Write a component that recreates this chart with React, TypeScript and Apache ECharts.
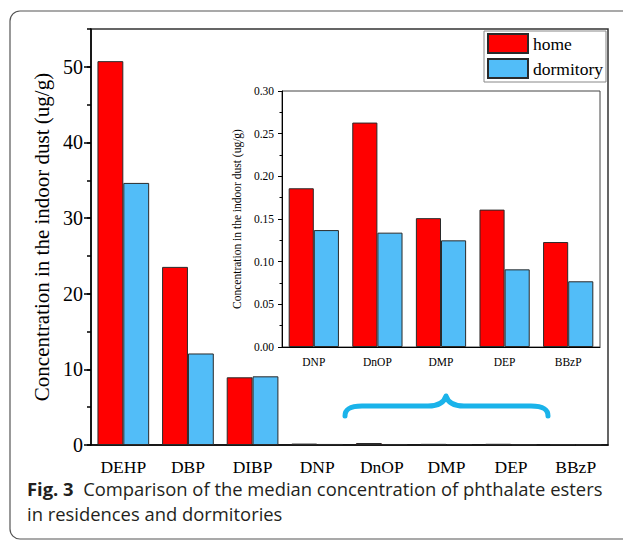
import React, { useEffect, useRef } from 'react';
import * as echarts from 'echarts';

const categories = ['DEHP', 'DBP', 'DIBP', 'DNP', 'DnOP', 'DMP', 'DEP', 'BBzP'];
const homeValues = [50.75, 23.55, 8.95, 0.186, 0.263, 0.151, 0.161, 0.123];
const dormitoryValues = [34.65, 12.1, 9.08, 0.137, 0.134, 0.125, 0.091, 0.077];
const insetCategories = categories.slice(3);
const insetHome = homeValues.slice(3);
const insetDormitory = dormitoryValues.slice(3);
const mainTickValues = [0, 10, 20, 30, 40, 50];
const seriesNames = ['home', 'dormitory'];
const yAxisTitle = 'Concentration in the indoor dust (ug/g)';
const captionBold = 'Fig. 3';
const captionLine1 = 'Comparison of the median concentration of phthalate esters';
const captionLine2 = 'in residences and dormitories';

const SERIF = '"Liberation Serif", "Times New Roman", serif';
const SANS = '"Open Sans", "Noto Sans", sans-serif';
const RED = '#ff0000';
const BLUE = '#52bdf8';
const BAR_BORDER = '#2a2a2a';

const braceD =
  'M345,416 C345,409 350,406 362,406 L428,406 C438,406 444,403 446,396 C448,403 454,406 464,406 L531,406 C543,406 548,409 548,416';
echarts.graphic.registerShape('brace', echarts.graphic.extendPath(braceD, {}));

export default function App() {
  const ref = useRef<HTMLDivElement>(null);
  useEffect(() => {
    if (!ref.current) return;
    const chart = echarts.init(ref.current, undefined, { renderer: 'svg' });
    const barStyle = (color: string) => ({ color, borderColor: BAR_BORDER, borderWidth: 1 });
    const option: any = {
      animation: false,
      backgroundColor: '#fff',
      legend: {
        orient: 'vertical',
        left: 484,
        top: 31,
        padding: [2, 3, 3, 3],
        itemGap: 4,
        itemWidth: 40,
        itemHeight: 19,
        icon: 'rect',
        borderColor: '#888',
        borderWidth: 1,
        backgroundColor: '#fff',
        selectedMode: false,
        data: seriesNames,
        textStyle: { fontFamily: SERIF, fontSize: 17.5, color: '#000' },
      },
      grid: [
        { left: 91, top: 29, width: 517, height: 416, show: true, borderColor: '#333', borderWidth: 1.5, backgroundColor: 'transparent' },
        { left: 282, top: 91, width: 318, height: 256, show: true, borderColor: '#444', borderWidth: 1, backgroundColor: '#fff' },
      ],
      xAxis: [
        {
          type: 'category', gridIndex: 0, position: 'bottom', data: categories,
          axisLine: { lineStyle: { color: '#000', width: 1.5 } },
          axisTick: { alignWithLabel: true, length: 7, lineStyle: { color: '#000', width: 1.5 } },
          axisLabel: { color: '#000', fontFamily: SERIF, fontSize: 17.5, margin: 13, interval: 0 },
          splitLine: { show: false },
        },
        {
          type: 'category', gridIndex: 0, position: 'bottom', data: categories,
          axisLine: { show: false },
          axisTick: { length: 4, interval: 0, lineStyle: { color: '#000', width: 1.5 } },
          axisLabel: { show: false },
          splitLine: { show: false },
        },
        {
          type: 'category', gridIndex: 1, position: 'bottom', data: insetCategories,
          axisLine: { lineStyle: { color: '#000', width: 1 } },
          axisTick: { alignWithLabel: true, length: 4, lineStyle: { color: '#000', width: 1 } },
          axisLabel: { color: '#000', fontFamily: SERIF, fontSize: 11.5, margin: 9, interval: 0 },
          splitLine: { show: false },
        },
        {
          type: 'category', gridIndex: 1, position: 'bottom', data: insetCategories,
          axisLine: { show: false },
          axisTick: { length: 2.5, interval: 0, lineStyle: { color: '#000', width: 1 } },
          axisLabel: { show: false },
          splitLine: { show: false },
        },
      ],
      yAxis: [
        {
          type: 'value', gridIndex: 0, position: 'left', min: 0, max: 55, interval: 10,
          axisLine: { show: true, lineStyle: { color: '#000', width: 1.5 } },
          axisTick: { show: true, length: 7, customValues: mainTickValues, lineStyle: { color: '#000', width: 1.5 } },
          axisLabel: { customValues: mainTickValues, color: '#000', fontFamily: SERIF, fontSize: 20, margin: 8 },
          splitLine: { show: false },
          name: yAxisTitle, nameLocation: 'middle', nameGap: 35,
          nameTextStyle: { fontFamily: SERIF, fontSize: 21, color: '#000' },
        },
        {
          type: 'value', gridIndex: 0, position: 'left', min: 0, max: 55, interval: 5,
          axisLine: { show: false },
          axisTick: { show: true, length: 4, lineStyle: { color: '#000', width: 1.5 } },
          axisLabel: { show: false },
          splitLine: { show: false },
        },
        {
          type: 'value', gridIndex: 1, position: 'left', min: 0, max: 0.3, interval: 0.05,
          axisLine: { show: true, lineStyle: { color: '#000', width: 1 } },
          axisTick: { show: true, length: 4, lineStyle: { color: '#000', width: 1 } },
          axisLabel: { color: '#000', fontFamily: SERIF, fontSize: 11.5, margin: 8, formatter: (v: number) => v.toFixed(2) },
          splitLine: { show: false },
          name: yAxisTitle, nameLocation: 'middle', nameGap: 31,
          nameTextStyle: { fontFamily: SERIF, fontSize: 11.5, color: '#000' },
        },
        {
          type: 'value', gridIndex: 1, position: 'left', min: 0, max: 0.3, interval: 0.025,
          axisLine: { show: false },
          axisTick: { show: true, length: 2.5, lineStyle: { color: '#000', width: 1 } },
          axisLabel: { show: false },
          splitLine: { show: false },
        },
      ],
      series: [
        { type: 'bar', name: seriesNames[0], xAxisIndex: 0, yAxisIndex: 0, data: homeValues, barGap: '0%', barCategoryGap: '20%', itemStyle: barStyle(RED) },
        { type: 'bar', name: seriesNames[1], xAxisIndex: 0, yAxisIndex: 0, data: dormitoryValues, barGap: '0%', barCategoryGap: '20%', itemStyle: barStyle(BLUE) },
        { type: 'bar', name: seriesNames[0], xAxisIndex: 2, yAxisIndex: 2, data: insetHome, barGap: '0%', barCategoryGap: '21%', itemStyle: barStyle(RED) },
        { type: 'bar', name: seriesNames[1], xAxisIndex: 2, yAxisIndex: 2, data: insetDormitory, barGap: '0%', barCategoryGap: '21%', itemStyle: barStyle(BLUE) },
      ],
      graphic: [
        {
          type: 'rect', silent: true, z: -10,
          shape: { x: 10, y: 11, width: 640, height: 528, r: 10 },
          style: { fill: 'none', stroke: '#555', lineWidth: 1.2 },
        },
        {
          type: 'brace', silent: true, x: 0, y: 0,
          style: { fill: 'none', stroke: '#1ab3ea', lineWidth: 5, lineCap: 'round', lineJoin: 'round' },
        },
        {
          type: 'text', x: 27, y: 488, silent: true,
          style: {
            text: '{b|' + captionBold + '}{r|  ' + captionLine1 + '}',
            verticalAlign: 'middle',
            rich: {
              b: { fontFamily: SANS, fontWeight: 'bold', fontSize: 18.4, fill: '#231f20' },
              r: { fontFamily: SANS, fontSize: 18.4, fill: '#231f20' },
            },
          },
        },
        {
          type: 'text', x: 27, y: 513, silent: true,
          style: { text: captionLine2, verticalAlign: 'middle', fontFamily: SANS, fontSize: 18.4, fill: '#231f20' },
        },
      ],
    };
    chart.setOption(option);
    return () => chart.dispose();
  }, []);
  return <div ref={ref} style={{ position: 'fixed', left: 0, top: 0, width: 623, height: 540, background: '#fff' }} />;
}
